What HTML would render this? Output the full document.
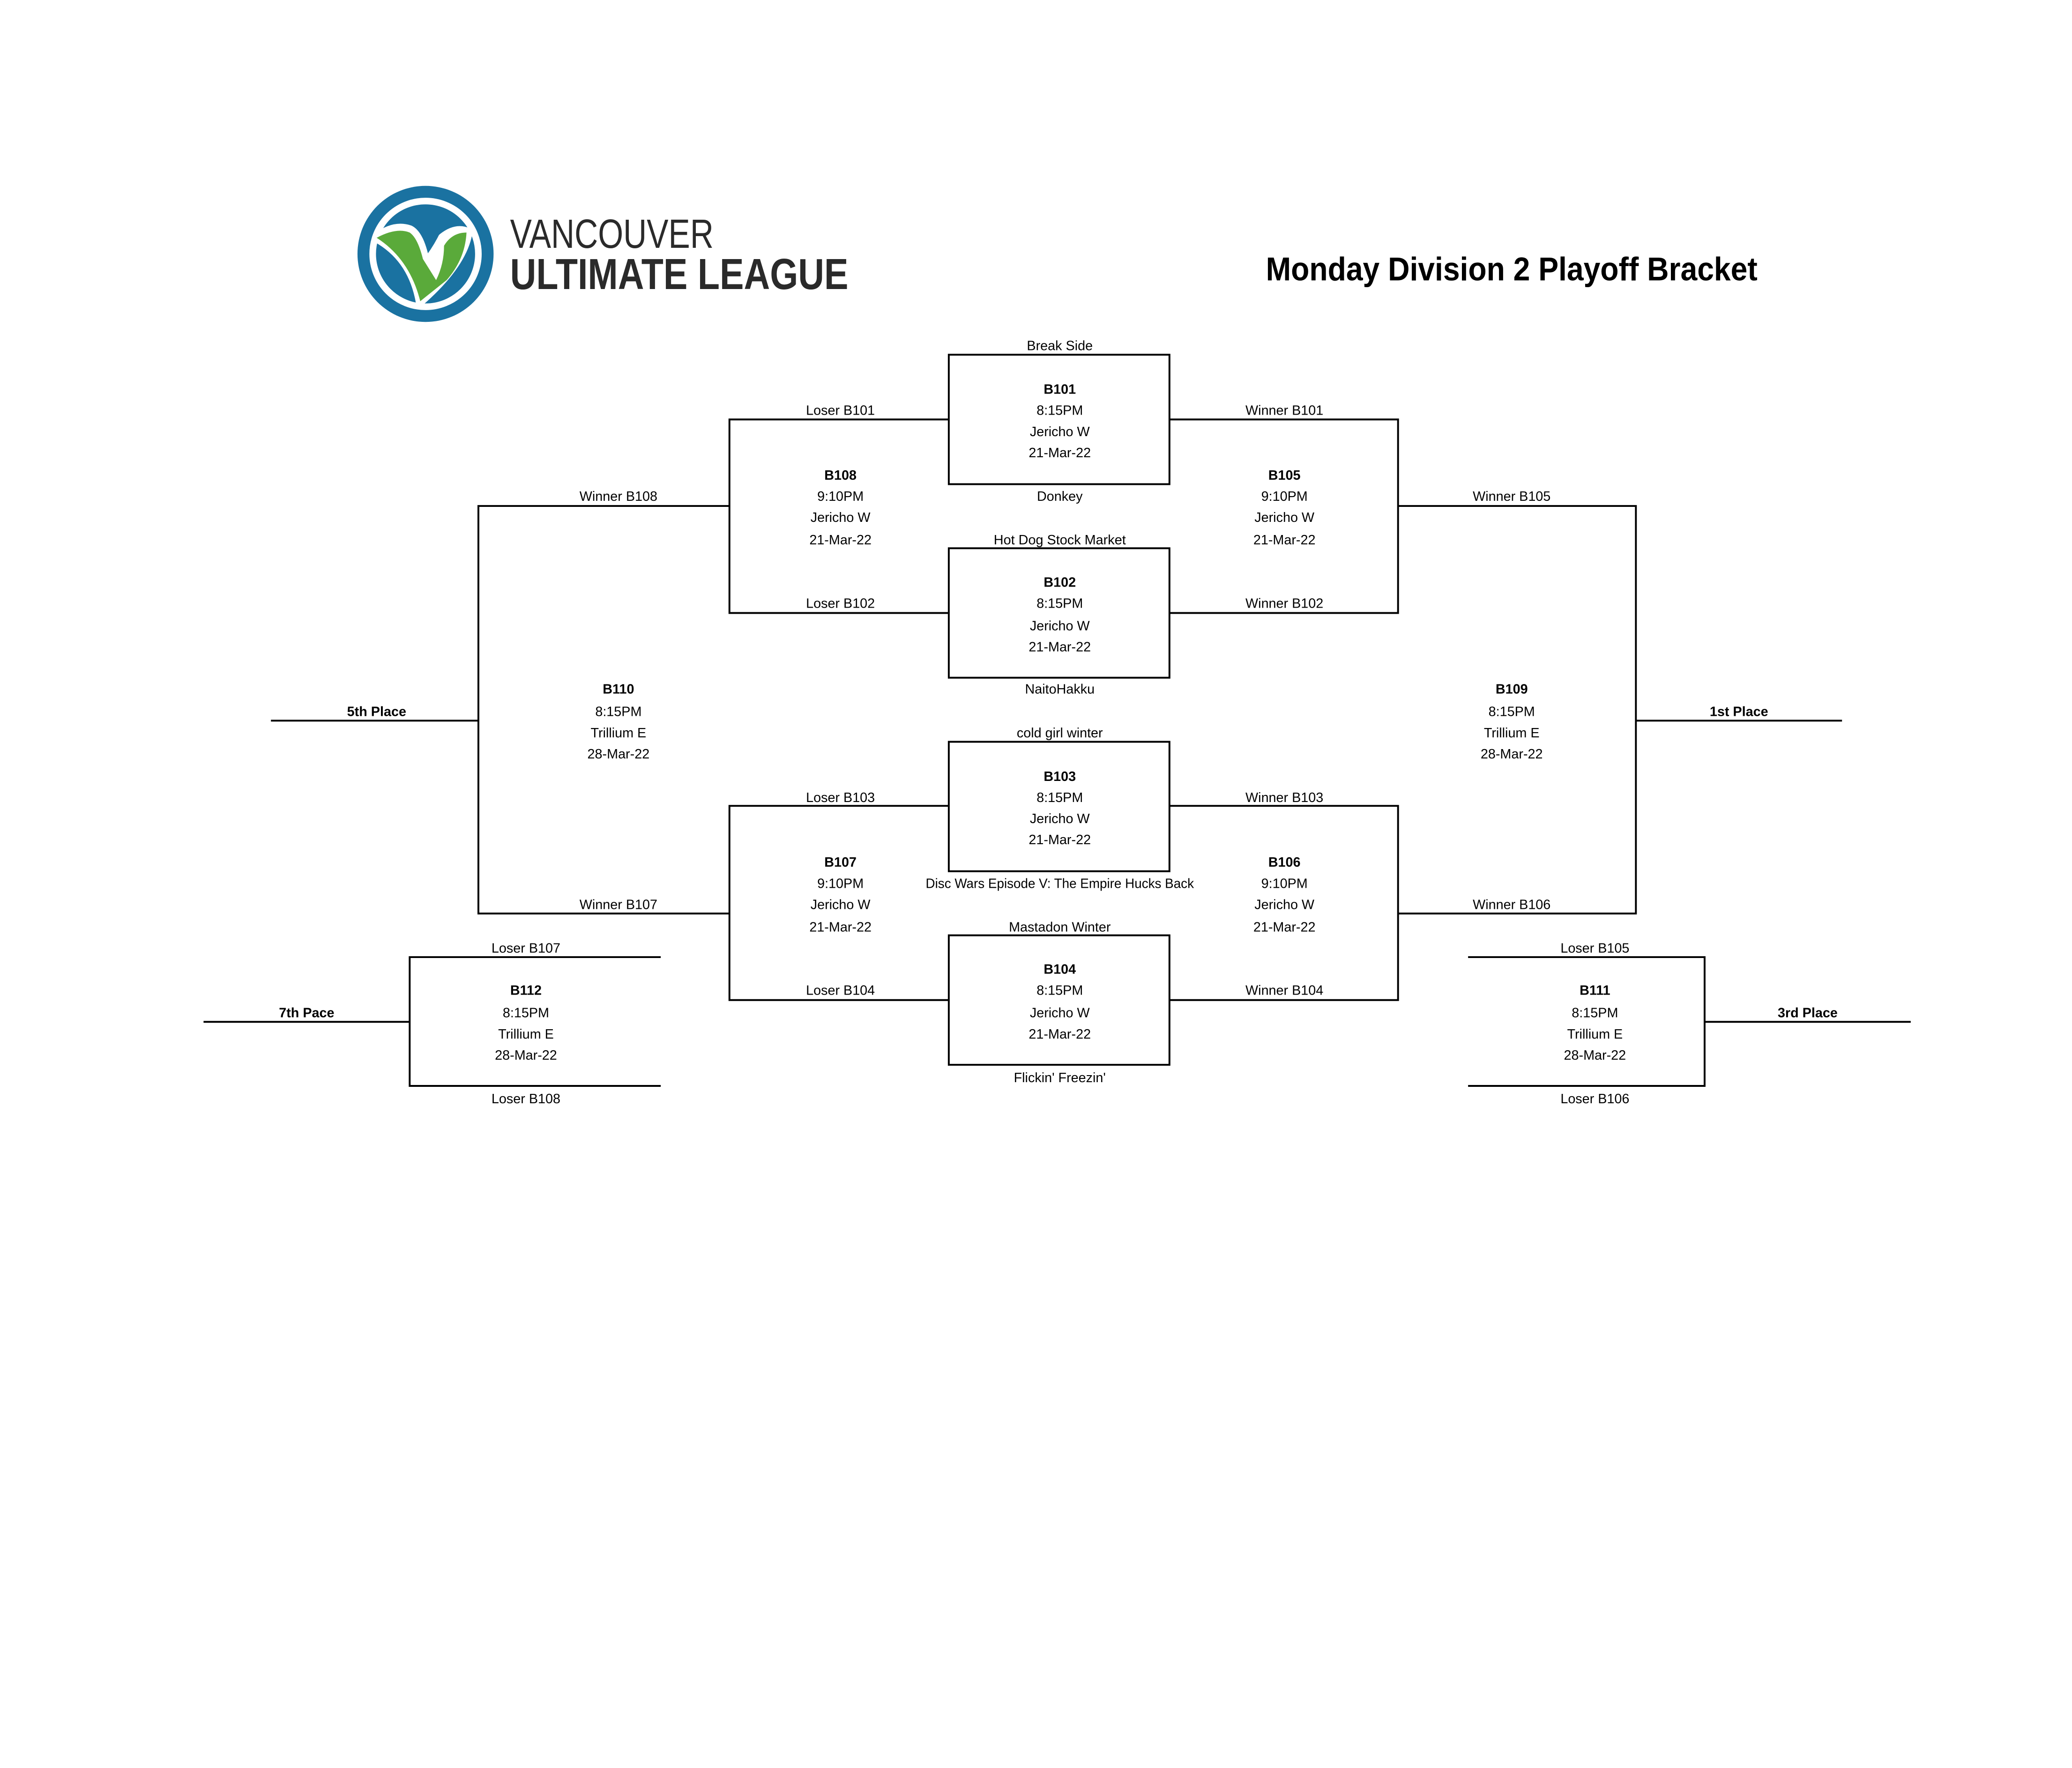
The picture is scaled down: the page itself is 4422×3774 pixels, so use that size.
<!DOCTYPE html>
<html><head><meta charset="utf-8"><style>
html,body{margin:0;padding:0;background:#fff;}
svg{display:block;}
text{font-family:"Liberation Sans Narrow","Liberation Sans",sans-serif;font-size:10.2px;fill:#000;text-anchor:middle;dominant-baseline:central;}
.b{font-weight:bold;}
</style></head><body>
<svg width="4422" height="3774" viewBox="0 0 1568 1338.3" xmlns="http://www.w3.org/2000/svg">
<rect width="1568" height="1338.3" fill="#fff"/>
<!-- logo -->
<circle cx="322" cy="192.2" r="51.5" fill="#1a72a1"/>
<circle cx="322" cy="192.2" r="40" fill="none" stroke="#fff" stroke-width="5"/>
<path d="M285 180 Q298 170 310 174 Q318 178 322 200 L318 228 Q312 195 285 180Z M318 228 L322 200 Q330 190 335 180 Q345 172 354 176 Q350 200 318 228Z" fill="#fff" stroke="#fff" stroke-width="7" stroke-linejoin="round"/>
<path d="M285 180 Q300 172 310 176 Q316 180 320 196 L330 212 Q336 200 336 186 Q342 176 353 176 Q352 196 338 212 L318 228 Q310 196 285 180Z" fill="#5aaa3a"/>
<text x="386" y="177" style="font-family:'Liberation Sans Narrow','Liberation Sans',sans-serif;font-size:31px;text-anchor:start;fill:#2a2a2a" textLength="154" lengthAdjust="spacingAndGlyphs">VANCOUVER</text>
<text x="386" y="207.5" class="b" style="font-family:'Liberation Sans Narrow','Liberation Sans',sans-serif;font-size:33px;text-anchor:start;fill:#2a2a2a" textLength="256" lengthAdjust="spacingAndGlyphs">ULTIMATE LEAGUE</text>
<text x="1144" y="203.5" class="b" style="font-family:'Liberation Sans Narrow','Liberation Sans',sans-serif;font-size:25px" textLength="372" lengthAdjust="spacingAndGlyphs">Monday Division 2 Playoff Bracket</text>

<g fill="none" stroke="#000" stroke-width="1.4">
<rect x="718" y="268.5" width="167" height="98"/>
<rect x="718" y="415" width="167" height="98"/>
<rect x="718" y="561.5" width="167" height="98"/>
<rect x="718" y="708" width="167" height="98"/>
<polyline points="718,317.5 552,317.5 552,464 718,464"/>
<polyline points="885,317.5 1058,317.5 1058,464 885,464"/>
<polyline points="718,610 552,610 552,757 718,757"/>
<polyline points="885,610 1058,610 1058,757 885,757"/>
<polyline points="552,383 362,383 362,691.5 552,691.5"/>
<polyline points="1058,383 1238,383 1238,691.5 1058,691.5"/>
<line x1="205" y1="545.5" x2="362" y2="545.5"/>
<line x1="1238" y1="545.5" x2="1394" y2="545.5"/>
<polyline points="500,724.5 310,724.5 310,822 500,822"/>
<polyline points="1111,724.5 1290,724.5 1290,822 1111,822"/>
<line x1="154" y1="773.5" x2="310" y2="773.5"/>
<line x1="1290" y1="773.5" x2="1446" y2="773.5"/>
</g>

<g transform="translate(0,0.9)">
<text x="802" y="261">Break Side</text>
<text x="802" y="294" class="b">B101</text><text x="802" y="310">8:15PM</text><text x="802" y="326">Jericho W</text><text x="802" y="342">21-Mar-22</text>
<text x="802" y="375">Donkey</text>
<text x="802" y="408" textLength="100" lengthAdjust="spacingAndGlyphs">Hot Dog Stock Market</text>
<text x="802" y="440" class="b">B102</text><text x="802" y="456">8:15PM</text><text x="802" y="473">Jericho W</text><text x="802" y="489">21-Mar-22</text>
<text x="802" y="521">NaitoHakku</text>
<text x="802" y="554">cold girl winter</text>
<text x="802" y="587" class="b">B103</text><text x="802" y="603">8:15PM</text><text x="802" y="619">Jericho W</text><text x="802" y="635">21-Mar-22</text>
<text x="802" y="668" textLength="203" lengthAdjust="spacingAndGlyphs">Disc Wars Episode V: The Empire Hucks Back</text>
<text x="802" y="701">Mastadon Winter</text>
<text x="802" y="733" class="b">B104</text><text x="802" y="749">8:15PM</text><text x="802" y="766">Jericho W</text><text x="802" y="782">21-Mar-22</text>
<text x="802" y="815">Flickin' Freezin'</text>

<text x="636" y="310">Loser B101</text><text x="972" y="310">Winner B101</text>
<text x="636" y="359" class="b">B108</text><text x="636" y="375">9:10PM</text><text x="636" y="391">Jericho W</text><text x="636" y="408">21-Mar-22</text>
<text x="972" y="359" class="b">B105</text><text x="972" y="375">9:10PM</text><text x="972" y="391">Jericho W</text><text x="972" y="408">21-Mar-22</text>
<text x="468" y="375">Winner B108</text><text x="1144" y="375">Winner B105</text>
<text x="636" y="456">Loser B102</text><text x="972" y="456">Winner B102</text>

<text x="468" y="521" class="b">B110</text><text x="468" y="538">8:15PM</text><text x="468" y="554">Trillium E</text><text x="468" y="570">28-Mar-22</text>
<text x="1144" y="521" class="b">B109</text><text x="1144" y="538">8:15PM</text><text x="1144" y="554">Trillium E</text><text x="1144" y="570">28-Mar-22</text>
<text x="285" y="538" class="b">5th Place</text><text x="1316" y="538" class="b">1st Place</text>

<text x="636" y="603">Loser B103</text><text x="972" y="603">Winner B103</text>
<text x="636" y="652" class="b">B107</text><text x="636" y="668">9:10PM</text><text x="636" y="684">Jericho W</text><text x="636" y="701">21-Mar-22</text>
<text x="972" y="652" class="b">B106</text><text x="972" y="668">9:10PM</text><text x="972" y="684">Jericho W</text><text x="972" y="701">21-Mar-22</text>
<text x="468" y="684">Winner B107</text><text x="1144" y="684">Winner B106</text>
<text x="636" y="749">Loser B104</text><text x="972" y="749">Winner B104</text>

<text x="398" y="717">Loser B107</text>
<text x="398" y="749" class="b">B112</text><text x="398" y="766">8:15PM</text><text x="398" y="782">Trillium E</text><text x="398" y="798">28-Mar-22</text>
<text x="398" y="831">Loser B108</text>
<text x="232" y="766" class="b">7th Pace</text>
<text x="1207" y="717">Loser B105</text>
<text x="1207" y="749" class="b">B111</text><text x="1207" y="766">8:15PM</text><text x="1207" y="782">Trillium E</text><text x="1207" y="798">28-Mar-22</text>
<text x="1207" y="831">Loser B106</text>
<text x="1368" y="766" class="b">3rd Place</text>
</g>
</svg>
</body></html>
